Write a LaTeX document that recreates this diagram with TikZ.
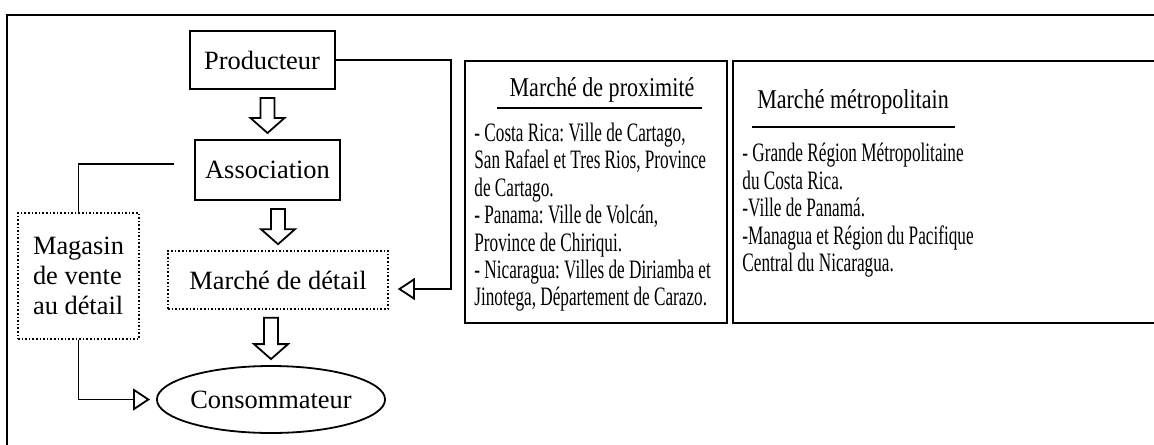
\documentclass[tikz,border=0pt]{standalone}
\usepackage{fontspec}
\setmainfont{Liberation Serif}
\newfontfamily\headfont[FakeStretch=0.81]{Liberation Serif}
\newfontfamily\listfont[FakeStretch=0.647]{Liberation Serif}
\usetikzlibrary{positioning, shapes.geometric, arrows.meta, calc}
\frenchspacing

\newcommand{\flowarrow}[2]{%
  \draw[line width=0.9pt, fill=white]
    ($(#1.south -| #2.north)+(-3.5,-4)$) |- ($(#2.north)+(-8.5,10.5)$)
    -- ($(#2.north)+(0,3)$) -- ($(#2.north)+(8.5,10.5)$)
    -| ($(#1.south -| #2.north)+(3.5,-4)$) -- cycle;}

\begin{document}
\begin{tikzpicture}[x=1pt, y=1pt, on grid, font=\fontsize{13.2}{15}\selectfont,
    box/.style={draw, line width=1pt, minimum width=72.5pt, minimum height=29pt, inner sep=0pt},
    dotbox/.style={draw, densely dotted, line width=0.8pt, inner sep=0pt},
    link/.style={line width=0.9pt},
    openhead/.style={-{Triangle[open, length=8.5pt, width=11pt]}},
    marketbox/.style={draw, line width=1pt, minimum height=131pt},
    heading/.style={font=\headfont\fontsize{13.6}{15}\selectfont, inner sep=0pt, anchor=base},
    listing/.style={font=\listfont\fontsize{13.3}{13.7}\selectfont, align=left, inner sep=0pt, anchor=north west}]
    \path[use as bounding box, clip] (0,0) rectangle (577,-222);
    \draw[line width=1pt] (3.5,-7.5) rectangle (600,-240);

    % flow chain
    \node[box] (prod) at (131,-30) {Producteur};
    \node[box, minimum height=30pt, below=55pt of prod, xshift=2.75pt] (assoc) {Association};
    \node[dotbox, minimum width=110pt, minimum height=29pt, below=55pt of assoc, xshift=5.25pt] (detail) {Marché de détail};
    \node[ellipse, draw, line width=0.9pt, minimum width=105pt, minimum height=33.5pt, inner sep=0pt,
        below=59.75pt of detail, xshift=-3.5pt] (conso) {Consommateur};
    \node[dotbox, minimum width=60.5pt, minimum height=63pt, align=left, left=99.75pt of detail, yshift=2pt] (shop)
        {Magasin\\de vente\\au détail};

    \flowarrow{prod}{assoc}
    \flowarrow{assoc}{detail}
    \flowarrow{detail}{conso}

    \draw[link, shorten <=10pt] ([yshift=3pt]assoc.west) -| (shop.north);
    \draw[link, openhead, shorten >=3pt] (shop.south) |- (conso.west);
    \draw[link, openhead, shorten >=4.5pt] (prod.east) -| ($(detail.east)+(31,-4.5)$) -- ([yshift=-4.5pt]detail.east);

    % markets
    \node[marketbox, minimum width=131pt] (near) at (298,-96) {};
    \node[marketbox, minimum width=218.5pt] (metro) at (475.75,-96) {};
    \node[heading] (nearhead) at (301,-48.5) {Marché de proximité};
    \draw[line width=1pt] ($(nearhead.base)+(-52.5,-5.5)$) -- ++(102.5,0);
    \node[heading] (metrohead) at (426.5,-54) {Marché métropolitain};
    \draw[line width=1pt] ($(metrohead.base)+(-50.5,-9.5)$) -- ++(101.5,0);
    \node[listing] (nearlist) at (237,-61.3) {- Costa Rica: Ville de Cartago,\\
        San Rafael et Tres Rios, Province\\
        de Cartago.\\
        - Panama: Ville de Volcán,\\
        Province de Chiriqui.\\
        - Nicaragua: Villes de Diriamba et\\
        Jinotega, Département de Carazo.};
    \node[listing] (metrolist) at (371,-71.5) {- Grande Région Métropolitaine\\
        du Costa Rica.\\
        -Ville de Panamá.\\
        -Managua et Région du Pacifique\\
        Central du Nicaragua.};
\end{tikzpicture}
\end{document}
